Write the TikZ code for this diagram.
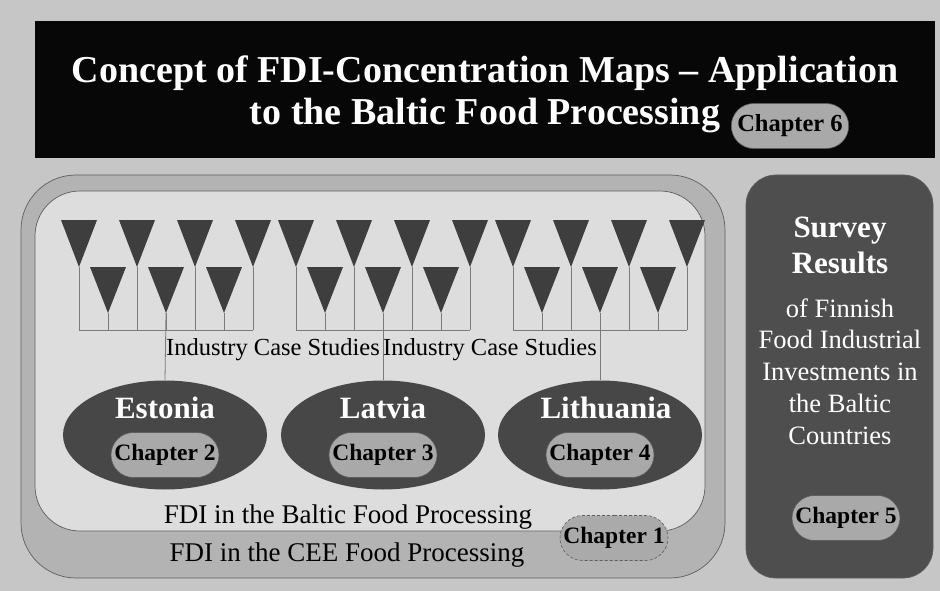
\documentclass[tikz,border=0pt]{standalone}
\usepackage{fontspec}
\setmainfont{Liberation Serif}
\usetikzlibrary{shapes.geometric,shapes.misc,positioning}

\definecolor{pagegray}{HTML}{C6C6C6}
\definecolor{bandgray}{HTML}{B3B3B3}
\definecolor{innergray}{HTML}{DDDDDD}
\definecolor{ellgray}{HTML}{474747}
\definecolor{trigray}{HTML}{3E3E3E}
\definecolor{surveygray}{HTML}{4E4E4E}
\definecolor{pillgray}{HTML}{A9A9A9}
\definecolor{edgegray}{HTML}{5E5E5E}
\definecolor{linegray}{HTML}{7A7A7A}
\definecolor{titleblack}{HTML}{070707}

\tikzset{
  pill/.style={rounded rectangle, draw=edgegray, line width=0.6pt, fill=pillgray,
    minimum width=114pt, minimum height=45pt, inner xsep=3pt,
    font=\fontsize{23.5}{26}\selectfont\bfseries},
  country/.style={ellipse, fill=ellgray, minimum width=204pt, minimum height=109pt, inner sep=0pt},
  countryname/.style={anchor=base, text=white, font=\fontsize{31}{34}\selectfont\bfseries},
  plaintext/.style={anchor=base, font=\fontsize{27}{30}\selectfont},
  link/.style={draw=linegray, line width=0.8pt},
}

\begin{document}
\begin{tikzpicture}[x=1pt, y=-1pt]
\useasboundingbox[fill=pagegray] (0,0) rectangle (940,591);

% Title bar
\fill[titleblack] (35,21) rectangle (935,158);
\node[anchor=base, text=white, font=\fontsize{38}{42}\selectfont\bfseries] (title1) at (485,83) {Concept of FDI-Concentration Maps -- Application};
\node[anchor=base, text=white, font=\fontsize{38}{42}\selectfont\bfseries] (title2) at (485,125) {to the Baltic Food Processing};
\node[pill, font=\fontsize{24.5}{27}\selectfont\bfseries] (ch6) at (790,126) {Chapter 6};

% CEE and Baltic frames
\draw[draw=edgegray, line width=0.7pt, fill=bandgray, rounded corners=55pt] (21,175) rectangle (725,578);
\draw[draw=edgegray, line width=0.7pt, fill=innergray, rounded corners=45pt] (35,191) rectangle (705,531);

% Survey frame
\draw[draw=edgegray, line width=0.7pt, fill=surveygray, rounded corners=30pt] (746,175) rectangle (933,578);

% Countries
\node[country] (est) at (165,435) {};
\node[country] (lat) at (383,435) {};
\node[country] (lit) at (600,435) {};
\node[countryname] (estname) at ([yshift=17pt]est.center) {Estonia};
\node[countryname] (latname) at ([yshift=17pt]lat.center) {Latvia};
\node[countryname] (litname) at ([xshift=6pt,yshift=17pt]lit.center) {Lithuania};
\node[pill] (ch2) at ([yshift=-20pt]est.center) {Chapter 2};
\node[pill] (ch3) at ([yshift=-20pt]lat.center) {Chapter 3};
\node[pill] (ch4) at ([yshift=-20pt]lit.center) {Chapter 4};

% Industry case studies
\foreach \g/\x/\c in {1/79/est, 2/296/lat, 3/513/lit} {
  \foreach \k in {0,...,3} {
    \fill[trigray] (\x+58*\k-18,220) -- (\x+58*\k+18,220) -- (\x+58*\k,267) -- cycle;
    \coordinate (top\g\k) at (\x+58*\k,267);
    \coordinate (foot\g\k) at (\x+58*\k,330);
    \draw[link] (top\g\k) -- (foot\g\k);
  }
  \foreach \k in {0,1,2} {
    \fill[trigray] (\x+29+58*\k-18,267) -- (\x+29+58*\k+18,267) -- (\x+29+58*\k,313) -- cycle;
    \coordinate (bot\g\k) at (\x+29+58*\k,313);
    \coordinate (botfoot\g\k) at (\x+29+58*\k,330);
    \draw[link] (bot\g\k) -- (botfoot\g\k);
  }
  \draw[link] (foot\g0) -- (foot\g3);
  \draw[link] (bot\g1) -- (\c.north);
}
\node[anchor=base, font=\fontsize{24.5}{27}\selectfont] (ics1) at (273,355) {Industry Case Studies};
\node[anchor=base, font=\fontsize{24.5}{27}\selectfont] (ics2) at (490,355) {Industry Case Studies};

% Frame labels
\node[plaintext] (baltic) at (348,523) {FDI in the Baltic Food Processing};
\node[plaintext] (cee) at (347,561) {FDI in the CEE Food Processing};
\node[pill, densely dashed, fill=bandgray!95!black] (ch1) at (614,538) {Chapter 1};

% Survey results
\node[anchor=base, text=white, font=\fontsize{31}{34}\selectfont\bfseries] (survey) at (840,237) {Survey};
\node[anchor=base, text=white, font=\fontsize{31}{34}\selectfont\bfseries] (results) at (840,273) {Results};
\foreach \n/\yy/\txt in {1/317/of Finnish, 2/348/Food Industrial, 3/380/Investments in, 4/412/the Baltic, 5/444/Countries}
  \node[anchor=base, text=white, font=\fontsize{26.5}{29}\selectfont] (srv\n) at (840,\yy) {\txt};
\node[pill] (ch5) at (846,518) {Chapter 5};
\end{tikzpicture}
\end{document}
